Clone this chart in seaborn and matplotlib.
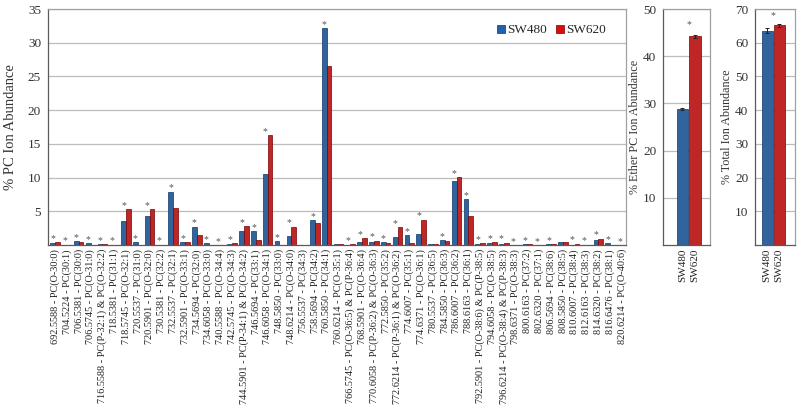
import numpy as np
import pandas as pd
import matplotlib
matplotlib.use('Agg')
import matplotlib.pyplot as plt
import seaborn as sns
from matplotlib.patches import Patch

# PC species (m/z - assignment)
species = [
    '692.5588 - PC(O-30:0)', '704.5224 - PC(30:1)', '706.5381 - PC(30:0)',
    '706.5745 - PC(O-31:0)', '716.5588 - PC(P-32:1) & PC(O-32:2)', '718.5381 - PC(31:1)',
    '718.5745 - PC(O-32:1)', '720.5537 - PC(31:0)', '720.5901 - PC(O-32:0)',
    '730.5381 - PC(32:2)', '732.5537 - PC(32:1)', '732.5901 - PC(O-33:1)',
    '734.5694 - PC(32:0)', '734.6058 - PC(O-33:0)', '740.5588 - PC(O-34:4)',
    '742.5745 - PC(O-34:3)', '744.5901 - PC(P-34:1) & PC(O-34:2)', '746.5694 - PC(33:1)',
    '746.6058 - PC(O-34:1)', '748.5850 - PC(33:0)', '748.6214 - PC(O-34:0)',
    '756.5537 - PC(34:3)', '758.5694 - PC(34:2)', '760.5850 - PC(34:1)',
    '760.6214 - PC(O-35:1)', '766.5745 - PC(O-36:5) & PC(P-36:4)', '768.5901 - PC(O-36:4)',
    '770.6058 - PC(P-36:2) & PC(O-36:3)', '772.5850 - PC(35:2)',
    '772.6214 - PC(P-36:1) & PC(O-36:2)', '774.6007 - PC(35:1)', '774.6371 - PC(O-36:1)',
    '780.5537 - PC(36:5)', '784.5850 - PC(36:3)', '786.6007 - PC(36:2)',
    '788.6163 - PC(36:1)', '792.5901 - PC(O-38:6) & PC(P-38:5)', '794.6058 - PC(O-38:5)',
    '796.6214 - PC(O-38:4) & PC(P-38:3)', '798.6371 - PC(O-38:3)', '800.6163 - PC(37:2)',
    '802.6320 - PC(37:1)', '806.5694 - PC(38:6)', '808.5850 - PC(38:5)',
    '810.6007 - PC(38:4)', '812.6163 - PC(38:3)', '814.6320 - PC(38:2)',
    '816.6476 - PC(38:1)', '820.6214 - PC(O-40:6)',
]

sw480 = [0.3, 0.05, 0.6, 0.3, 0.15, 0.05, 3.55, 0.45, 4.3, 0.05,
         7.9, 0.4, 2.7, 0.3, 0.02, 0.15, 2.1, 2.0, 10.5, 0.6,
         1.3, 0.05, 3.7, 32.2, 0.15, 0.03, 0.5, 0.4, 0.4, 1.2,
         1.5, 1.65, 0.1, 0.75, 9.5, 6.8, 0.15, 0.3, 0.15, 0.02,
         0.15, 0.02, 0.1, 0.45, 0.05, 0.03, 0.75, 0.25, 0.02]
sw620 = [0.45, 0.05, 0.4, 0.05, 0.15, 0.05, 5.35, 0.05, 5.3, 0.05,
         5.45, 0.4, 1.45, 0.05, 0.02, 0.25, 2.8, 0.75, 16.3, 0.05,
         2.7, 0.05, 3.25, 26.6, 0.15, 0.15, 1.0, 0.65, 0.25, 2.6,
         0.35, 3.75, 0.1, 0.65, 10.1, 4.3, 0.25, 0.45, 0.35, 0.02,
         0.1, 0.02, 0.1, 0.45, 0.2, 0.03, 0.95, 0.02, 0.02]
signif = [1, 1, 1, 1, 1, 1, 1, 1, 1, 1,
          1, 1, 1, 1, 1, 1, 1, 1, 1, 1,
          1, 0, 1, 1, 0, 1, 1, 1, 1, 1,
          1, 1, 0, 1, 1, 1, 1, 1, 1, 1,
          1, 1, 1, 0, 1, 1, 1, 1, 1]

cell_lines = ['SW480', 'SW620']
ether_vals = [28.8, 44.2]
ether_err = [0.25, 0.3]
total_vals = [63.6, 65.2]
total_err = [0.8, 0.4]

colors = {'SW480': '#1f62ae', 'SW620': '#d80d0d'}
edges = {'SW480': '#0d3868', 'SW620': '#7a0000'}

sns.set_style('white')
plt.rcParams['font.family'] = ['Liberation Serif', 'DejaVu Serif']

n = len(species)
df = pd.DataFrame({
    'species': species * 2,
    'line': ['SW480'] * n + ['SW620'] * n,
    'value': sw480 + sw620,
})

fig = plt.figure(figsize=(8, 4.11), dpi=100)
ax = fig.add_axes([0.06, 0.404, 0.7225, 0.574])
sns.barplot(data=df, x='species', y='value', hue='line', order=species,
            hue_order=cell_lines, palette=colors, width=0.8, errorbar=None,
            ax=ax, linewidth=0.5)
for cont, name in zip(ax.containers, cell_lines):
    for p in cont:
        p.set_edgecolor(edges[name])

for i in range(n):
    if signif[i]:
        ax.text(i - 0.2, max(sw480[i], sw620[i]) + 0.55, '*', ha='center',
                va='center', fontsize=7, color='#555555')


def style_axes(a, ymax, step, ylabel, lab_size, pad):
    a.set_ylim(0, ymax)
    a.set_yticks(np.arange(step, ymax + 0.1, step))
    a.yaxis.grid(True, color='#bcbcbc', lw=0.9)
    a.xaxis.grid(False)
    a.set_axisbelow(True)
    for s in ['top', 'right']:
        a.spines[s].set_color('#a0a0a0')
        a.spines[s].set_linewidth(0.9)
    for s in ['left', 'bottom']:
        a.spines[s].set_color('#5a5a5a')
        a.spines[s].set_linewidth(0.9)
    a.tick_params(axis='y', length=3, width=0.8, color='#5a5a5a', pad=2,
                  labelsize=9.5, labelcolor='#333333')
    a.tick_params(axis='x', length=0, pad=3, labelcolor='#222222')
    a.set_ylabel(ylabel, fontsize=lab_size, color='#333333', labelpad=pad)
    a.set_xlabel('')


style_axes(ax, 35, 5, '% PC Ion Abundance', 10.5, 8)
ax.set_xlim(-0.6, n - 0.65)
ax.set_xticks(range(n))
ax.set_xticklabels(species, rotation=90, fontsize=7.4)

handles = [Patch(facecolor=colors[c], edgecolor=edges[c], lw=0.5) for c in cell_lines]
ax.legend(handles, cell_lines, loc='upper right', bbox_to_anchor=(0.985, 0.985),
          ncol=2, frameon=False, fontsize=9.5, handlelength=0.6, handleheight=0.6,
          handletextpad=0.15, columnspacing=0.7)

# Ether PC panel
ax2 = fig.add_axes([0.829, 0.404, 0.059, 0.574])
sns.barplot(x=cell_lines, y=ether_vals, hue=cell_lines, palette=colors,
            legend=False, width=0.95, ax=ax2, linewidth=0.5)
ax2.errorbar([0, 1], ether_vals, yerr=ether_err, fmt='none', ecolor='#222222',
             elinewidth=0.7, capsize=1.5, capthick=0.7)
for p, name in zip(ax2.patches, cell_lines):
    p.set_edgecolor(edges[name])
style_axes(ax2, 50, 10, '% Ether PC Ion Abundance', 8.7, 1)
ax2.set_xlim(-1.55, 2.25)
ax2.tick_params(axis='x', labelrotation=90, labelsize=8)
ax2.text(0.5, ether_vals[1] + 2.5, '*', ha='center', va='center', fontsize=7,
         color='#555555')

# Total PC panel
ax3 = fig.add_axes([0.944, 0.404, 0.05, 0.574])
sns.barplot(x=cell_lines, y=total_vals, hue=cell_lines, palette=colors,
            legend=False, width=0.95, ax=ax3, linewidth=0.5)
ax3.errorbar([0, 1], total_vals, yerr=total_err, fmt='none', ecolor='#222222',
             elinewidth=0.7, capsize=1.5, capthick=0.7)
for p, name in zip(ax3.patches, cell_lines):
    p.set_edgecolor(edges[name])
style_axes(ax3, 70, 10, '% Total Ion Abundance', 8.7, 1)
ax3.set_xlim(-1.0, 2.33)
ax3.tick_params(axis='x', labelrotation=90, labelsize=8)
ax3.text(0.5, total_vals[1] + 2.8, '*', ha='center', va='center', fontsize=7,
         color='#555555')

fig.savefig('out.png', dpi=100)
